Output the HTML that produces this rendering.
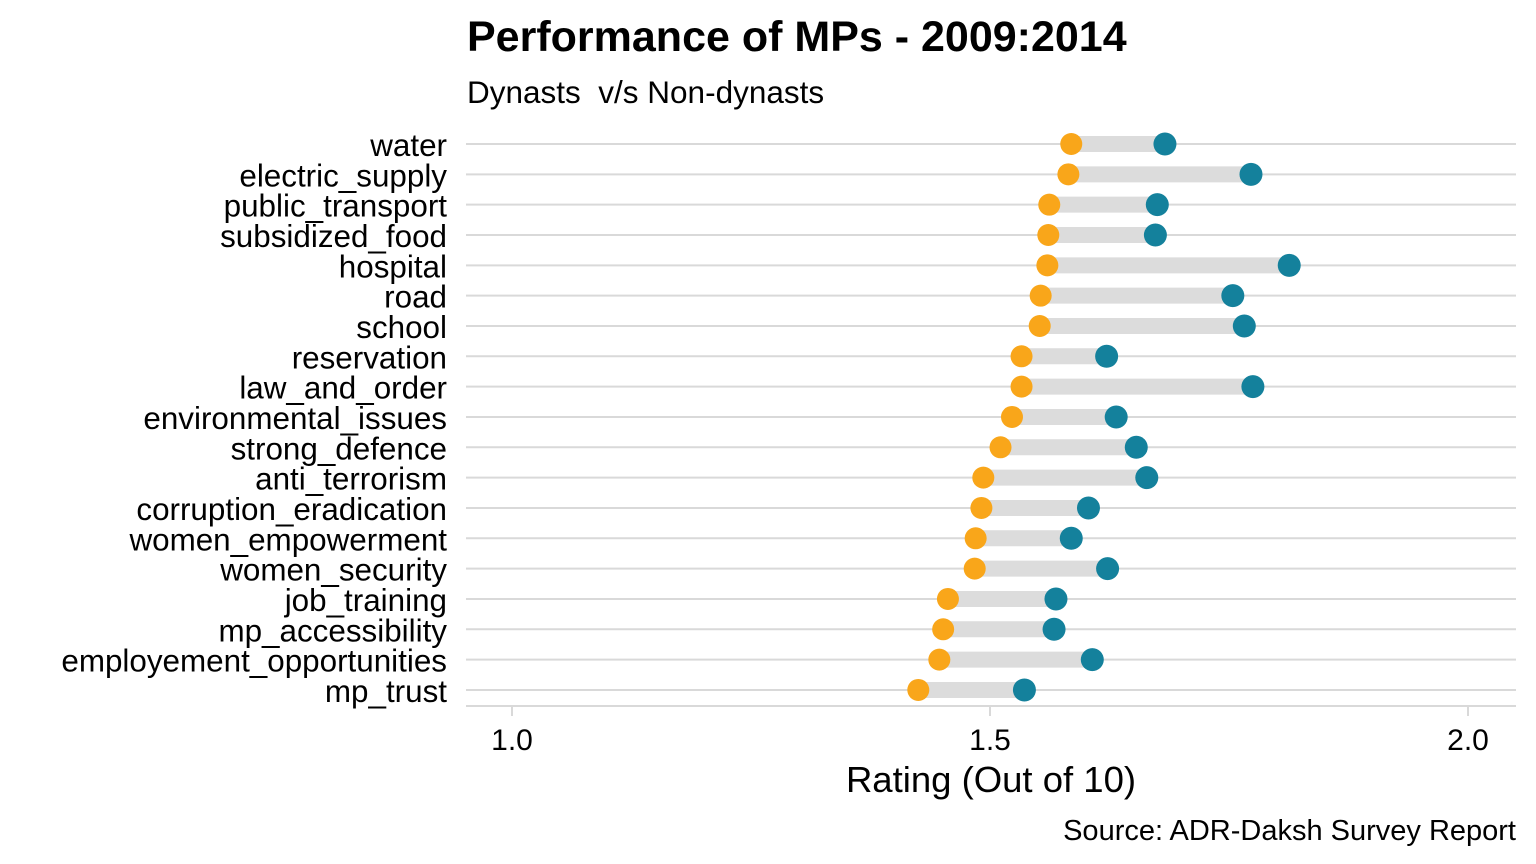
<!DOCTYPE html>
<html><head><meta charset="utf-8"><style>
body{margin:0;background:#fff;}
svg{display:block;font-family:"Liberation Sans",Arial,sans-serif;}
</style></head><body>
<svg id="chart" width="1536" height="864">
<text x="467" y="51" font-size="43" font-weight="bold" fill="#000">Performance of MPs - 2009:2014</text>
<text x="467" y="103" font-size="31.5" fill="#000" xml:space="preserve" style="white-space:pre">Dynasts  v/s Non-dynasts</text>
<g id="grid"></g><g id="marks"></g><g id="labels"></g><g id="xaxis"></g>
<text x="991" y="792" font-size="36.5" text-anchor="middle" fill="#000">Rating (Out of 10)</text>
<text x="1516" y="840" font-size="29" text-anchor="end" fill="#000">Source: ADR-Daksh Survey Report</text>
</svg>
<script>
const categories=["water","electric_supply","public_transport","subsidized_food","hospital","road","school","reservation","law_and_order","environmental_issues","strong_defence","anti_terrorism","corruption_eradication","women_empowerment","women_security","job_training","mp_accessibility","employement_opportunities","mp_trust"];
const dynasts=[1.585,1.582,1.562,1.561,1.560,1.553,1.552,1.533,1.533,1.523,1.511,1.493,1.491,1.485,1.484,1.456,1.451,1.447,1.425];
const nonDynasts=[1.683,1.773,1.675,1.673,1.813,1.754,1.766,1.622,1.775,1.632,1.653,1.664,1.603,1.585,1.623,1.569,1.567,1.607,1.536];
const ticks=[1.0,1.5,2.0];
const tickLabels=["1.0","1.5","2.0"];
const NS="http://www.w3.org/2000/svg";
const x=v=>512+(v-1)*956;
const y=i=>144+i*30.33;
function mk(p,t,a){const e=document.createElementNS(NS,t);for(const k in a)e.setAttribute(k,a[k]);document.getElementById(p).appendChild(e);return e;}
categories.forEach((c,i)=>{
 const g=mk("grid","line",{x1:466,x2:1516,y1:y(i),y2:y(i),stroke:"#d9d9d9","stroke-width":2});
 
 
 const b=mk("marks","line",{x1:x(dynasts[i]),x2:x(nonDynasts[i]),y1:y(i),y2:y(i),stroke:"#dcdcdc","stroke-width":16});
 
 
 const d=mk("marks","circle",{cx:x(dynasts[i]),cy:y(i),r:11,fill:"#F9A61A"});
 
 
 const n=mk("marks","circle",{cx:x(nonDynasts[i]),cy:y(i),r:11.5,fill:"#14819C"});
 
 
 const t=mk("labels","text",{x:447,y:y(i)+12,"font-size":31.4,"text-anchor":"end",fill:"#000"});
 t.textContent=c;
 
 
});
const ax=mk("xaxis","line",{x1:466,x2:1516,y1:706,y2:706,stroke:"#d9d9d9","stroke-width":2});


ticks.forEach((v,i)=>{
 const tk=mk("xaxis","line",{x1:x(v),x2:x(v),y1:706,y2:716,stroke:"#d9d9d9","stroke-width":2});
 
 
 const tl=mk("xaxis","text",{x:x(v),y:750,"font-size":30,"text-anchor":"middle",fill:"#000"});
 tl.textContent=tickLabels[i];
 
 
});
</script>
</body></html>
